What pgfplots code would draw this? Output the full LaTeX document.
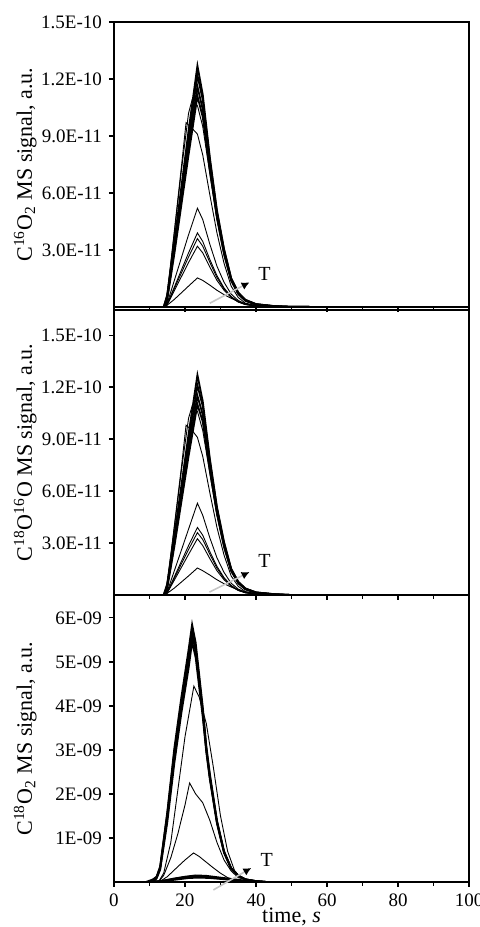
\documentclass[border=0pt]{standalone}
\usepackage{fontspec}
\setmainfont{Liberation Serif}
\usepackage{pgfplots}
\pgfplotsset{compat=1.18}
\usetikzlibrary{arrows.meta}

\pgfplotsset{
 panel/.style={
  scale only axis, width=177.5pt, xmin=0, xmax=100,
  axis line style={line width=0.75pt},
  tick align=outside, xtick pos=bottom, ytick pos=left,
  xtick={0,20,40,60,80,100}, minor xtick={10,30,50,70,90},
  major tick length=2.5pt, minor tick length=1.8pt,
  every tick/.style={black, line width=0.6pt},
  ymin=0, clip=false,
  tick label style={font=\fontsize{9.5}{10}\selectfont},
  label style={font=\fontsize{11}{12}\selectfont},
  ylabel style={at={(axis description cs:-0.25,0.5)}, anchor=center},
  xlabel style={at={(axis description cs:0.5,0)}, anchor=north, yshift=-9.5pt},
  anchor=south west,
 },
 bold/.style={black, line width=0.9pt},
 thin/.style={black, line width=0.45pt},
}

\begin{document}
\begin{tikzpicture}
\useasboundingbox (0,0) rectangle (240pt,463.5pt);

% ---------------- Panel 1 : C16O2 (units 1E-11)
\begin{axis}[panel, at={(57pt,310pt)}, height=142.5pt, ymax=15,
  ytick={3,6,9,12,15}, yticklabels={3.0E-11,6.0E-11,9.0E-11,1.2E-10,1.5E-10},
  xticklabels={},
  ylabel={C\textsuperscript{16}O\textsubscript{2} MS signal, a.u.}]
\addplot[bold] coordinates {(0,0)(14,0)(15,0.64)(17,3.43)(19,6.35)(21,9.27)(23.5,12.7)(25,11.18)(27,7.87)(29,5.08)(31,3.05)(33,1.52)(35,0.76)(37,0.38)(40,0.15)(45,0.05)(50,0.01)(60,0)};
\addplot[bold] coordinates {(0,0)(14,0)(15,0.58)(17,3.2)(19,6.0)(21,8.8)(23.5,12.2)(25,10.9)(27,7.7)(29,5.0)(31,3.0)(33,1.5)(35,0.75)(37,0.37)(40,0.15)(45,0.05)(50,0.01)(60,0)};
\addplot[bold] coordinates {(0,0)(14.3,0)(15,0.5)(17,3.0)(19,5.7)(21,8.4)(23.5,11.6)(25,10.4)(27,7.4)(29,4.8)(31,2.9)(33,1.45)(35,0.7)(37,0.35)(40,0.14)(45,0.04)(50,0.01)(60,0)};
\addplot[bold] coordinates {(0,0)(14.5,0)(15,0.4)(17,2.8)(19,5.4)(21,8.0)(23.5,11.1)(25,10.0)(27,7.2)(29,4.7)(31,2.8)(33,1.4)(35,0.7)(37,0.34)(40,0.13)(45,0.04)(50,0.01)(60,0)};
\addplot[thin] coordinates {(0,0)(14.7,0)(17,4.0)(19,7.4)(20.3,9.7)(22,9.4)(23.5,9.1)(25,8.0)(27,5.9)(29,3.9)(31,2.3)(33,1.1)(35,0.5)(37,0.2)(40,0.08)(45,0.02)(60,0)};
\addplot[thin] coordinates {(0,0)(14.5,0)(17,3.9)(19,7.2)(21,10.2)(22,10.9)(23.5,10.6)(25,9.5)(27,7.0)(29,4.6)(31,2.7)(33,1.35)(35,0.65)(37,0.3)(40,0.1)(45,0.03)(60,0)};
\addplot[thin] coordinates {(0,0)(14.5,0)(15,0.2)(17,1.4)(19,2.6)(21,3.8)(23.5,5.2)(25,4.6)(27,3.3)(29,2.15)(31,1.3)(33,0.68)(35,0.34)(37,0.17)(40,0.06)(45,0.02)(60,0)};
\addplot[thin] coordinates {(0,0)(14.5,0)(15,0.15)(17,1.05)(19,1.95)(21,2.85)(23.5,3.9)(25,3.45)(27,2.5)(29,1.65)(31,1.0)(33,0.55)(35,0.28)(37,0.14)(40,0.05)(45,0.02)(60,0)};
\addplot[thin] coordinates {(0,0)(14.5,0)(15,0.14)(17,0.97)(19,1.8)(21,2.63)(23.5,3.6)(25,3.2)(27,2.35)(29,1.55)(31,0.95)(33,0.52)(35,0.27)(37,0.13)(40,0.05)(45,0.02)(60,0)};
\addplot[thin] coordinates {(0,0)(14.5,0)(15,0.12)(17,0.86)(19,1.6)(21,2.34)(23.5,3.2)(25,2.85)(27,2.1)(29,1.4)(31,0.88)(33,0.5)(35,0.26)(37,0.13)(40,0.05)(45,0.02)(60,0)};
\addplot[thin] coordinates {(0,0)(14,0)(15,0.1)(17,0.4)(19,0.75)(21,1.1)(23.5,1.53)(25,1.4)(27,1.15)(29,0.88)(31,0.65)(33,0.46)(35,0.3)(37,0.17)(40,0.06)(45,0.02)(60,0)};
\draw[gray!45, line width=0.8pt, -{Latex[black,length=4pt,width=4pt]}] (axis cs:27,0.2) -- (axis cs:38.2,1.3);
\node[font=\fontsize{10}{11}\selectfont] at (axis cs:42.4,1.75) {T};
\end{axis}

% ---------------- Panel 2 : C18O16O (units 1E-11)
\begin{axis}[panel, at={(57pt,166pt)}, height=142.5pt, ymax=16.45,
  ytick={3,6,9,12,15}, yticklabels={3.0E-11,6.0E-11,9.0E-11,1.2E-10,1.5E-10},
  xticklabels={},
  ylabel={C\textsuperscript{18}O\textsuperscript{16}O MS signal, a.u.}]
\addplot[bold] coordinates {(12,0)(14,0)(15,0.64)(17,3.43)(19,6.35)(21,9.27)(23.5,12.7)(25,11.18)(27,7.87)(29,5.08)(31,3.05)(33,1.52)(35,0.76)(37,0.38)(40,0.15)(45,0.05)(50,0)};
\addplot[bold] coordinates {(12,0)(14,0)(15,0.58)(17,3.2)(19,6.0)(21,8.8)(23.5,12.1)(25,10.9)(27,7.7)(29,5.0)(31,3.0)(33,1.5)(35,0.75)(37,0.37)(40,0.15)(45,0.05)(50,0)};
\addplot[bold] coordinates {(12,0)(14.3,0)(15,0.5)(17,3.0)(19,5.7)(21,8.4)(23.5,11.5)(25,10.4)(27,7.4)(29,4.8)(31,2.9)(33,1.45)(35,0.7)(37,0.35)(40,0.14)(45,0.04)(50,0)};
\addplot[bold] coordinates {(12,0)(14.5,0)(15,0.4)(17,2.8)(19,5.4)(21,8.0)(23.5,11.0)(25,10.0)(27,7.2)(29,4.7)(31,2.8)(33,1.4)(35,0.7)(37,0.34)(40,0.13)(45,0.04)(50,0)};
\addplot[thin] coordinates {(12,0)(14.7,0)(17,4.0)(19,7.4)(20.3,9.8)(22,9.5)(23.5,9.1)(25,8.0)(27,5.9)(29,3.9)(31,2.3)(33,1.1)(35,0.5)(37,0.2)(40,0.08)(45,0.02)(50,0)};
\addplot[thin] coordinates {(12,0)(14.5,0)(17,3.9)(19,7.2)(21,10.2)(22,10.9)(23.5,10.6)(25,9.5)(27,7.0)(29,4.6)(31,2.7)(33,1.35)(35,0.65)(37,0.3)(40,0.1)(45,0.03)(50,0)};
\addplot[thin] coordinates {(12,0)(14.5,0)(15,0.2)(17,1.4)(19,2.6)(21,3.8)(23.5,5.3)(25,4.6)(27,3.3)(29,2.15)(31,1.3)(33,0.68)(35,0.34)(37,0.17)(40,0.06)(45,0.02)(50,0)};
\addplot[thin] coordinates {(12,0)(14.5,0)(15,0.15)(17,1.05)(19,1.95)(21,2.85)(23.5,3.9)(25,3.45)(27,2.5)(29,1.65)(31,1.0)(33,0.55)(35,0.28)(37,0.14)(40,0.05)(45,0.02)(50,0)};
\addplot[thin] coordinates {(12,0)(14.5,0)(15,0.14)(17,0.97)(19,1.8)(21,2.63)(23.5,3.6)(25,3.2)(27,2.35)(29,1.55)(31,0.95)(33,0.52)(35,0.27)(37,0.13)(40,0.05)(45,0.02)(50,0)};
\addplot[thin] coordinates {(12,0)(14.5,0)(15,0.12)(17,0.86)(19,1.6)(21,2.34)(23.5,3.25)(25,2.85)(27,2.1)(29,1.4)(31,0.88)(33,0.5)(35,0.26)(37,0.13)(40,0.05)(45,0.02)(50,0)};
\addplot[thin] coordinates {(12,0)(14,0)(15,0.1)(17,0.4)(19,0.75)(21,1.1)(23.5,1.56)(25,1.4)(27,1.15)(29,0.88)(31,0.65)(33,0.46)(35,0.3)(37,0.17)(40,0.06)(45,0.02)(50,0)};
\draw[gray!45, line width=0.8pt, -{Latex[black,length=4pt,width=4pt]}] (axis cs:26.9,0.17) -- (axis cs:38.2,1.33);
\node[font=\fontsize{10}{11}\selectfont] at (axis cs:42.4,1.95) {T};
\end{axis}

% ---------------- Panel 3 : C18O2 (units 1E-09)
\begin{axis}[panel, at={(57pt,22.5pt)}, height=143.5pt, ymax=6.52,
  ytick={1,2,3,4,5,6}, yticklabels={1E-09,2E-09,3E-09,4E-09,5E-09,6E-09},
  xticklabels={0,20,40,60,80,100},
  xlabel={time, \textit{s}},
  ylabel={C\textsuperscript{18}O\textsubscript{2} MS signal, a.u.}]
\addplot[bold] coordinates {(9,0)(11,0.06)(12,0.12)(13,0.35)(15,1.58)(17,3.04)(19,4.21)(21,5.27)(22,5.85)(23,5.44)(25,3.98)(26,3.10)(27,2.46)(29,1.40)(31,0.70)(33,0.32)(35,0.15)(37,0.06)(40,0.02)(43,0)};
\addplot[bold] coordinates {(10,0)(12,0.11)(13,0.34)(15,1.54)(17,2.96)(19,4.10)(21,5.13)(22,5.7)(23,5.30)(25,3.88)(26,3.02)(27,2.39)(29,1.37)(31,0.68)(33,0.31)(35,0.14)(37,0.06)(40,0.02)(43,0)};
\addplot[bold] coordinates {(10.5,0)(12,0.1)(13,0.3)(15,1.45)(17,2.85)(19,4.0)(21,5.0)(22,5.6)(23,5.25)(25,3.85)(26,3.0)(27,2.38)(29,1.36)(31,0.68)(33,0.31)(35,0.14)(37,0.06)(40,0.02)(43,0)};
\addplot[bold] coordinates {(11,0)(12,0.08)(13,0.28)(15,1.35)(17,2.7)(19,3.85)(21,4.85)(22,5.45)(23,5.1)(25,3.75)(26,2.95)(27,2.33)(29,1.33)(31,0.66)(33,0.3)(35,0.14)(37,0.06)(40,0.02)(43,0)};
\addplot[thin] coordinates {(12.5,0)(14,0.2)(16,0.9)(18,2.1)(20,3.3)(22.5,4.45)(24,4.2)(26,3.6)(28,2.6)(30,1.5)(32,0.7)(34,0.25)(36,0.08)(40,0.02)(43,0)};
\addplot[thin] coordinates {(12.5,0)(14,0.15)(16,0.55)(18,1.1)(20,1.75)(21.3,2.25)(23,2.0)(25,1.8)(27,1.4)(29,0.9)(31,0.5)(33,0.25)(35,0.1)(38,0.03)(42,0)};
\addplot[thin] coordinates {(12.7,0)(15,0.12)(18,0.35)(20,0.5)(22.4,0.66)(24,0.58)(26,0.45)(28,0.32)(30,0.2)(32,0.1)(34,0.04)(37,0.01)(40,0)};
\addplot[bold] coordinates {(9,0)(13,0.02)(16,0.06)(19,0.1)(22,0.13)(25,0.12)(28,0.1)(31,0.07)(34,0.04)(37,0.02)(40,0.01)(43.5,0)};
\addplot[bold] coordinates {(10,0)(14,0.03)(17,0.08)(20,0.12)(23,0.15)(26,0.14)(29,0.11)(32,0.08)(35,0.05)(38,0.02)(42,0)};
\addplot[bold] coordinates {(11,0)(15,0.03)(18,0.06)(21,0.09)(24,0.1)(27,0.09)(30,0.07)(33,0.05)(36,0.03)(39,0.01)(43,0)};
\draw[gray!45, line width=0.8pt, -{Latex[black,length=4pt,width=4pt]}] (axis cs:28,-0.18) -- (axis cs:38.7,0.32);
\node[font=\fontsize{10}{11}\selectfont] at (axis cs:43,0.5) {T};
\end{axis}
\end{tikzpicture}
\end{document}
